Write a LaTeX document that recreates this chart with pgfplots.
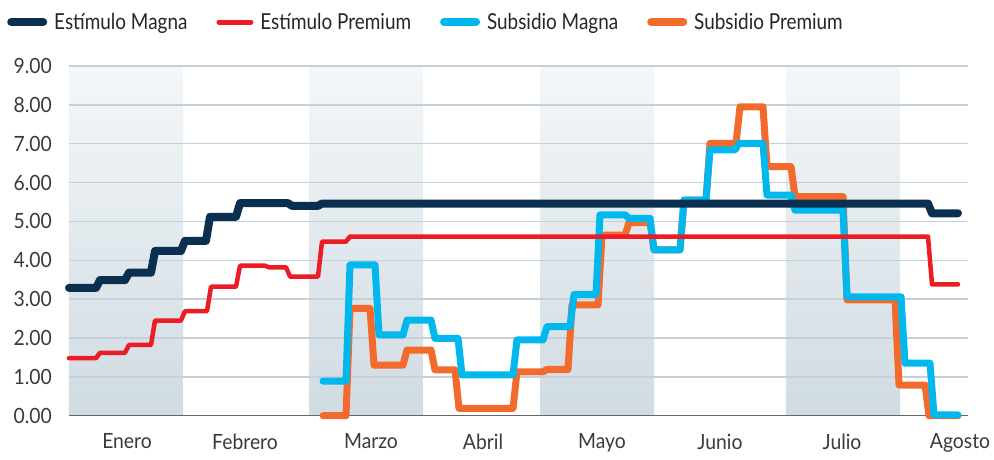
\documentclass[border=0pt]{standalone}
\usepackage{fontspec}
\setmainfont{Lato}
\newfontfamily\tickfont[FakeStretch=0.92]{Lato}
\newfontfamily\legfont[FakeStretch=0.86]{Lato}
\usepackage{pgfplots}
\pgfplotsset{compat=1.18}
\definecolor{cnavy}{HTML}{0B2F51}
\definecolor{cred}{HTML}{EC1C24}
\definecolor{ccyan}{HTML}{00B7EE}
\definecolor{corange}{HTML}{F26B2C}
\definecolor{cgrid}{HTML}{C5D0D8}
\definecolor{bandtop}{HTML}{F4F7F9}
\definecolor{bandbot}{HTML}{D0DBE2}
\definecolor{ctext}{HTML}{3A3A3A}
\begin{document}
\begin{tikzpicture}
\begin{axis}[
  set layers,
  at={(0pt,0pt)}, anchor=south west,
  scale only axis, width=899pt, height=349.7pt,
  xmin=69, xmax=968, ymin=0, ymax=9,
  axis x line*=bottom, axis y line*=left,
  x axis line style={draw=black!60, line width=1.2pt},
  y axis line style={draw=none},
  ytick={0,1,...,9},
  ymajorgrids, major grid style={draw=cgrid, line width=1.4pt},
  major tick length=0pt,
  xtick={127,245,371,483,602,720,842,960},
  xticklabels={Enero,Febrero,Marzo,Abril,Mayo,Junio,Julio,Agosto},
  /pgf/number format/fixed, /pgf/number format/fixed zerofill,
  /pgf/number format/precision=2, /pgf/number format/assume math mode=true,
  yticklabel style={anchor=east, inner sep=0pt, xshift=-17pt, font=\tickfont\fontsize{21}{24}\selectfont, text=ctext},
  xticklabel style={anchor=north, inner sep=0pt, yshift=-18pt, font=\tickfont\fontsize{21}{24}\selectfont, text=ctext},
  clip=false,
  legend columns=4,
  legend style={at={(0,1)}, anchor=west, xshift=-62pt, yshift=44pt, draw=none, fill=none, inner sep=0pt,
    font=\legfont\fontsize{22}{26}\selectfont, text=black!85,
    /tikz/every odd column/.append style={column sep=5pt},
    /tikz/every even column/.append style={column sep=27pt}},
  legend image code/.code={\draw[#1, line cap=round] (4pt,0pt) -- (36pt,0pt);},
]
% shaded month bands
\addplot[draw=none, top color=bandtop, bottom color=bandbot, forget plot, on layer=axis background] coordinates {(69,9)(183,9)} \closedcycle;
\addplot[draw=none, top color=bandtop, bottom color=bandbot, forget plot, on layer=axis background] coordinates {(309,9)(423,9)} \closedcycle;
\addplot[draw=none, top color=bandtop, bottom color=bandbot, forget plot, on layer=axis background] coordinates {(540,9)(654,9)} \closedcycle;
\addplot[draw=none, top color=bandtop, bottom color=bandbot, forget plot, on layer=axis background] coordinates {(786,9)(900,9)} \closedcycle;

\addlegendimage{cnavy, line width=8pt}
\addlegendentry{Estímulo Magna}
\addlegendimage{cred, line width=5pt}
\addlegendentry{Estímulo Premium}
\addlegendimage{ccyan, line width=8pt}
\addlegendentry{Subsidio Magna}
\addlegendimage{corange, line width=8pt}
\addlegendentry{Subsidio Premium}

% Subsidio Premium
\addplot[corange, line width=7pt, line cap=round, line join=round, forget plot] coordinates {
(323,0.0)(346,0.0)(350,2.76)(370,2.76)(374,1.30)(403,1.30)(407,1.69)(431,1.69)(435,1.18)(455,1.18)(459,0.19)(513,0.19)(517,1.13)(543,1.13)(547,1.19)(568,1.19)(572,2.85)(598,2.85)(602,4.65)(625,4.65)(629,4.97)(650,4.97)(654,4.27)(680,4.27)(684,5.55)(706,5.55)(710,7.01)(736,7.01)(740,7.95)(763,7.95)(767,6.41)(791,6.41)(795,5.64)(843,5.64)(847,2.98)(895,2.98)(899,0.79)(925,0.79)(929,0.0)(958,0.0)};
% Subsidio Magna
\addplot[ccyan, line width=7pt, line cap=round, line join=round, forget plot] coordinates {
(323,0.89)(346,0.89)(350,3.88)(375,3.88)(379,2.08)(403,2.08)(407,2.46)(431,2.46)(435,1.99)(458,1.99)(462,1.05)(513,1.05)(517,1.95)(543,1.95)(547,2.29)(570,2.29)(574,3.12)(596,3.12)(600,5.17)(625,5.17)(629,5.08)(650,5.08)(654,4.27)(680,4.27)(684,5.55)(706,5.55)(710,6.84)(735,6.84)(739,7.01)(763,7.01)(767,5.68)(791,5.68)(795,5.29)(843,5.29)(847,3.06)(901,3.06)(905,1.35)(930,1.35)(934,0.02)(958,0.02)};
% Estimulo Premium
\addplot[cred, line width=4.5pt, line cap=round, line join=round, forget plot] coordinates {
(69,1.48)(96,1.48)(100,1.62)(125,1.62)(129,1.82)(151,1.82)(155,2.45)(181,2.45)(185,2.69)(207,2.69)(211,3.32)(236,3.32)(240,3.86)(265,3.86)(269,3.82)(286,3.82)(290,3.58)(318,3.58)(322,4.48)(346,4.48)(350,4.61)(928,4.61)(932,3.38)(958,3.38)};
% Estimulo Magna
\addplot[cnavy, line width=8pt, line cap=round, line join=round, forget plot] coordinates {
(69,3.29)(96,3.29)(100,3.49)(125,3.49)(129,3.68)(151,3.68)(155,4.24)(181,4.24)(185,4.50)(206,4.50)(210,5.12)(236,5.12)(240,5.47)(288,5.47)(292,5.40)(318,5.40)(322,5.46)(928,5.46)(932,5.21)(958,5.21)};
\end{axis}
\path (-69pt,-43.3pt) rectangle (925pt,415.7pt);
\end{tikzpicture}
\end{document}
